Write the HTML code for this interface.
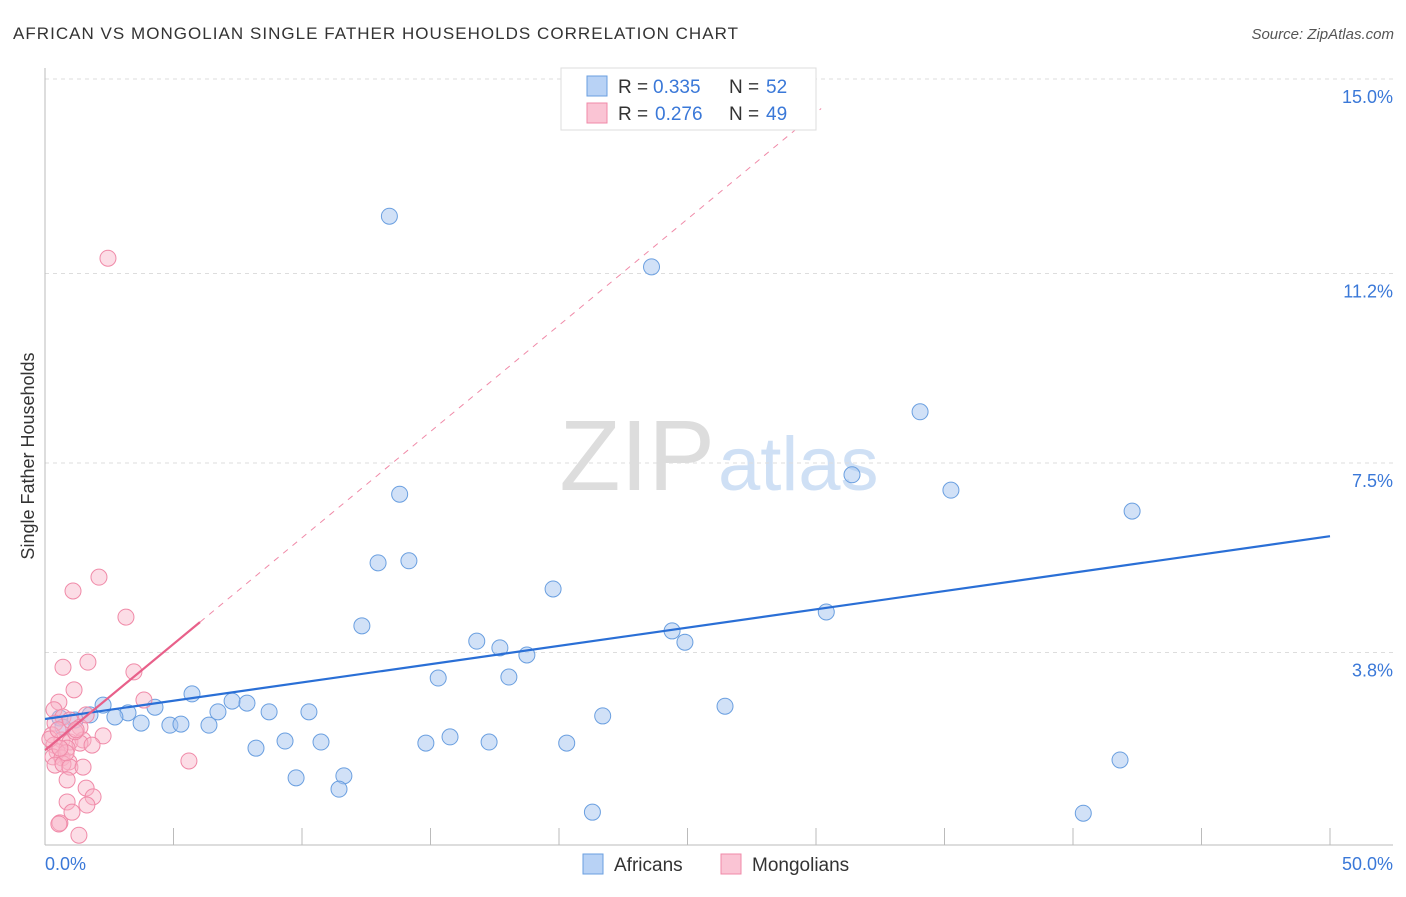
<!DOCTYPE html>
<html><head><meta charset="utf-8"><style>
body{margin:0;background:#fff;font-family:"Liberation Sans",sans-serif}
svg text{font-family:"Liberation Sans",sans-serif}
</style></head><body>
<svg width="1406" height="892">
<text x="13" y="39" font-size="17" fill="#333" textLength="725" lengthAdjust="spacing">AFRICAN VS MONGOLIAN SINGLE FATHER HOUSEHOLDS CORRELATION CHART</text>
<text x="1394" y="39" font-size="15" fill="#555" font-style="italic" text-anchor="end">Source: ZipAtlas.com</text>
<text x="715" y="490" font-size="100" fill="#ddd" text-anchor="end" font-family="Liberation Serif">ZIP</text>
<text x="718" y="490" font-size="76" fill="#cfe0f5">atlas</text>
<g id="grid"></g>
<line x1="45" y1="68" x2="45" y2="845" stroke="#bbb"/>
<line x1="45" y1="845" x2="1393" y2="845" stroke="#bbb"/>
<text x="34" y="456" font-size="18" fill="#333" text-anchor="middle" transform="rotate(-90 34 456)">Single Father Households</text>
<text x="45" y="870" font-size="18" fill="#3a78d8">0.0%</text>
<text x="1393" y="870" font-size="18" fill="#3a78d8" text-anchor="end">50.0%</text>
<g id="marks"></g>
<g>
<rect x="561" y="68" width="255" height="62" fill="#fff" stroke="#ddd"/>
<rect x="587" y="76" width="20" height="20" fill="#b8d2f5" stroke="#6a9fe0"/>
<rect x="587" y="103" width="20" height="20" fill="#fac4d4" stroke="#f08aa8"/>
<text x="618" y="93" font-size="19" fill="#333">R =</text>
<text x="653" y="93" font-size="19" fill="#3a78d8">0.335</text>
<text x="729" y="93" font-size="19" fill="#333">N =</text>
<text x="766" y="93" font-size="19" fill="#3a78d8">52</text>
<text x="618" y="120" font-size="19" fill="#333">R =</text>
<text x="655" y="120" font-size="19" fill="#3a78d8">0.276</text>
<text x="729" y="120" font-size="19" fill="#333">N =</text>
<text x="766" y="120" font-size="19" fill="#3a78d8">49</text>
</g>
<g>
<rect x="583" y="854" width="20" height="20" fill="#b8d2f5" stroke="#6a9fe0"/>
<text x="614" y="871" font-size="19" fill="#333">Africans</text>
<rect x="721" y="854" width="20" height="20" fill="#fac4d4" stroke="#f08aa8"/>
<text x="752" y="871" font-size="19" fill="#333">Mongolians</text>
</g>
</svg>
<script>
const yTicks=[15.0,11.2,7.5,3.8];
const yTickLabels=["15.0%","11.2%","7.5%","3.8%"];
const xTicks=[5,10,15,20,25,30,35,40,45,50];
const africanX=[13.4,23.6,34.05,31.4,35.25,42.3,13.8,12.96,14.16,19.77,30.4,12.33,16.8,24.4,24.9,17.7,18.75,15.3,18.05,5.72,26.46,7.28,7.86,4.28,2.26,3.23,6.73,8.72,10.27,21.7,1.75,2.72,3.74,4.86,5.29,6.38,0.58,1.17,0.7,15.76,9.34,10.74,14.82,17.28,20.3,8.21,41.83,9.77,11.63,11.44,21.3,40.4];
const africanY=[12.32,11.33,8.5,7.27,6.97,6.56,6.89,5.55,5.59,5.04,4.59,4.32,4.02,4.22,4.0,3.89,3.75,3.3,3.32,2.99,2.75,2.85,2.81,2.73,2.77,2.62,2.64,2.64,2.64,2.56,2.58,2.54,2.42,2.38,2.4,2.38,2.52,2.48,2.34,2.15,2.07,2.05,2.03,2.05,2.03,1.93,1.7,1.35,1.39,1.13,0.68,0.66];
const mongolX=[2.45,2.1,1.09,3.15,1.67,0.7,3.46,1.13,3.85,0.54,0.35,5.6,2.26,0.7,0.97,0.39,1.36,0.27,0.66,0.97,1.48,1.36,0.35,0.86,0.47,0.31,0.66,0.93,0.39,0.7,0.97,1.48,0.86,1.6,0.86,1.87,1.63,1.05,0.58,1.32,0.54,1.17,1.83,0.19,0.51,0.82,1.21,1.6,0.58];
const mongolY=[11.5,5.27,5.0,4.49,3.61,3.51,3.42,3.07,2.87,2.83,2.68,1.68,2.17,2.54,2.48,2.42,2.34,2.19,2.09,2.05,2.09,2.03,1.99,1.93,1.86,1.76,1.74,1.66,1.6,1.62,1.56,1.56,1.31,1.15,0.88,0.98,0.82,0.68,0.47,0.23,0.45,2.25,1.99,2.11,2.29,1.84,2.29,2.58,1.93];
const africanTrend=[2.5,6.07];
const mongolTrend=[1.89,0.415];
const NS="http://www.w3.org/2000/svg";
const X=v=>45+v/50*1285, Y=v=>847-v/3.75*192;
function mk(t,a,p){const e=document.createElementNS(NS,t);for(const k in a)e.setAttribute(k,a[k]);p.appendChild(e);return e;}
const grid=document.getElementById('grid'),marks=document.getElementById('marks');
const svg=document.querySelector('svg');
yTicks.forEach((t,i)=>{
 const l=mk('line',{x1:45,x2:1393,y1:Y(t),y2:Y(t),stroke:'#ddd','stroke-dasharray':'4,4'},grid);
 
 
 const tx=mk('text',{x:1393,y:Y(t)+24,'font-size':18,fill:'#3a78d8','text-anchor':'end'},svg);
 tx.textContent=yTickLabels[i];
 
 
});
xTicks.forEach(t=>{
 const l=mk('line',{x1:X(t),x2:X(t),y1:828,y2:845,stroke:'#bbb'},grid);
 
 
});
africanX.forEach((x,i)=>{
 const c=mk('circle',{cx:X(x),cy:Y(africanY[i]),r:8,fill:'rgba(164,196,240,0.5)',stroke:'#6a9fe0','stroke-width':1},marks);
 
 
});
mongolX.forEach((x,i)=>{
 const c=mk('circle',{cx:X(x),cy:Y(mongolY[i]),r:8,fill:'rgba(248,180,200,0.45)',stroke:'#f08aa8','stroke-width':1},marks);
 
 
});
let l=mk('line',{x1:X(0),y1:Y(africanTrend[0]),x2:X(50),y2:Y(africanTrend[1]),stroke:'#2a6fd6','stroke-width':2.2},marks);


const mEnd=6.03, dEnd=30.2;
l=mk('line',{x1:X(mEnd),y1:Y(mongolTrend[0]+mongolTrend[1]*mEnd),x2:X(dEnd),y2:Y(mongolTrend[0]+mongolTrend[1]*dEnd),stroke:'#f08aa8','stroke-width':1,'stroke-dasharray':'6,6'},marks);


l=mk('line',{x1:X(0),y1:Y(mongolTrend[0]),x2:X(mEnd),y2:Y(mongolTrend[0]+mongolTrend[1]*mEnd),stroke:'#e8608a','stroke-width':2.2},marks);


</script>
</body></html>
